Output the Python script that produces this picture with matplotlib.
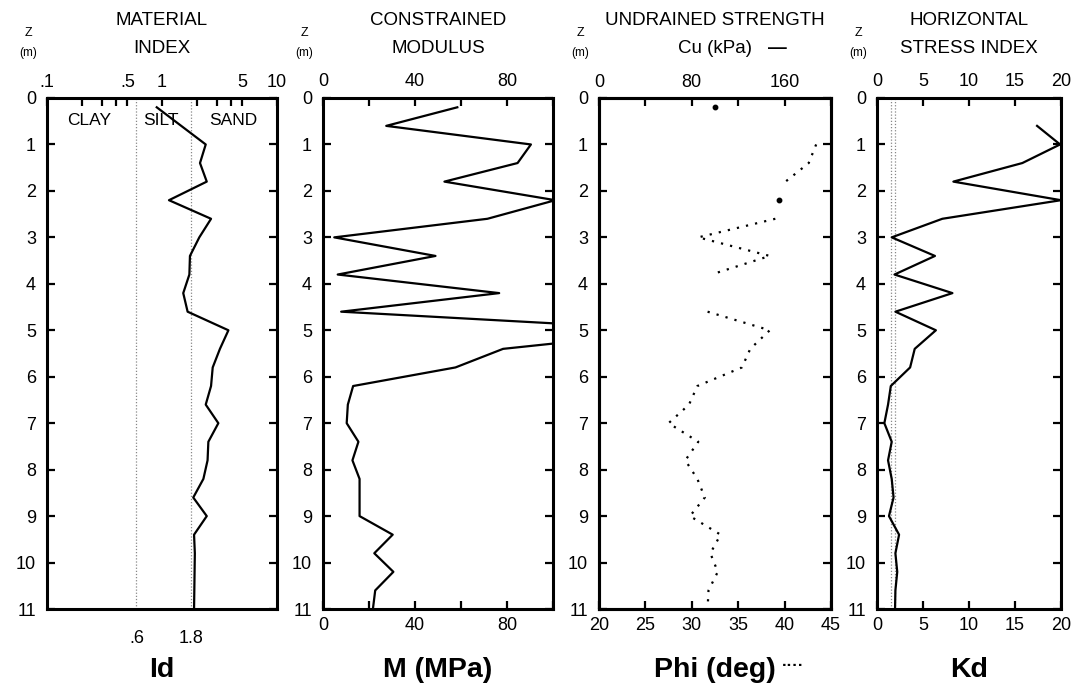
import matplotlib
matplotlib.use("Agg")
import matplotlib.pyplot as plt
import numpy as np

plt.rcParams['font.family'] = ['Liberation Sans', 'DejaVu Sans']

# ---------------- data ----------------
depth_labels = [0, 1, 2, 3, 4, 5, 6, 7, 8, 9, 10, 11]

# Material index Id
depth_id = [0.2, 1.0, 1.4, 1.8, 2.2, 2.6, 3.0, 3.4, 3.8, 4.2, 4.6, 5.0, 5.4, 5.8,
            6.2, 6.6, 7.0, 7.4, 7.8, 8.2, 8.6, 9.0, 9.4, 9.8, 10.2, 10.6, 11.0]
id_values = [0.90, 2.40, 2.14, 2.45, 1.15, 2.67, 2.11, 1.75, 1.73, 1.53, 1.67, 3.78, 3.19, 2.76,
             2.67, 2.40, 3.09, 2.53, 2.49, 2.29, 1.87, 2.45, 1.90, 1.93, 1.92, 1.91, 1.90]
id_top_ticks = [0.1, 0.5, 1, 5, 10]
id_top_labels = ['.1', '.5', '1', '5', '10']
id_minor_ticks = [0.2, 0.3, 0.4, 2, 3, 4]
id_bounds = [0.6, 1.8]
id_bound_labels = ['.6', '1.8']
soil_names = ['CLAY', 'SILT', 'SAND']
soil_pos = [0.234, 0.98, 4.14]

# Constrained modulus M (MPa)
depth_m = [0.2, 0.6, 1.0, 1.4, 1.8, 2.2, 2.6, 3.0, 3.4, 3.8, 4.2, 4.6, 5.0, 5.4, 5.8,
           6.2, 6.6, 7.0, 7.4, 7.8, 8.2, 8.6, 9.0, 9.4, 9.8, 10.2, 10.6, 11.0]
m_values = [58.4, 27.5, 90.4, 84.6, 52.8, 101.0, 71.5, 4.9, 48.9, 6.4, 76.6, 7.9, 155.0, 78.3, 57.6,
            13.1, 10.8, 10.3, 15.4, 12.8, 15.9, 15.9, 15.9, 30.3, 22.3, 30.6, 22.7, 21.7]
m_ticks = [0, 20, 40, 60, 80, 100]
m_labels = ['0', '', '40', '', '80', '']

# Undrained strength Cu (kPa) and friction angle Phi (deg)
depth_cu = [0.2, 2.2]
cu_values = [100, 155]
depth_phi = [0.2, 0.6, 1.0, 1.4, 1.8, 2.2, 2.6, 3.0, 3.4, 3.8, 4.2, 4.6, 5.0, 5.4, 5.8,
             6.2, 6.6, 7.0, 7.4, 7.8, 8.2, 8.6, 9.0, 9.4, 9.8, 10.2, 10.6, 11.0]
phi_values = [np.nan, np.nan, 43.4, 42.6, 40.1, np.nan, 39.0, 30.7, 38.4, 32.1, np.nan, 31.7, 38.4, 36.3, 35.4,
              30.6, 29.7, 27.5, 30.7, 29.3, 30.6, 31.4, 29.8, 33.1, 32.0, 32.8, 31.8, 31.7]
phi_ticks = [20, 25, 30, 35, 40, 45]
cu_ticks = [0, 40, 80, 120, 160, 200]
cu_labels = ['0', '', '80', '', '160', '']

# Horizontal stress index Kd
depth_kd = [0.6, 1.0, 1.4, 1.8, 2.2, 2.6, 3.0, 3.4, 3.8, 4.2, 4.6, 5.0, 5.4, 5.8,
            6.2, 6.6, 7.0, 7.4, 7.8, 8.2, 8.6, 9.0, 9.4, 9.8, 10.2, 10.6, 11.0]
kd_values = [17.4, 19.9, 15.8, 8.3, 20.0, 7.1, 1.6, 6.3, 1.9, 8.2, 2.0, 6.4, 4.1, 3.6,
             1.5, 1.2, 0.8, 1.6, 1.2, 1.6, 1.8, 1.3, 2.4, 2.0, 2.2, 2.0, 1.96]
kd_ticks = [0, 5, 10, 15, 20]
kd_refs = [1.5, 2.0]

titles = [('MATERIAL', 'INDEX'), ('CONSTRAINED', 'MODULUS'),
          ('UNDRAINED STRENGTH', 'Cu (kPa)'), ('HORIZONTAL', 'STRESS INDEX')]
bottom_labels = ['Id', 'M (MPa)', 'Phi (deg)', 'Kd']

# ---------------- layout ----------------
W, H = 1086, 683
TOP, BOT = 98, 609
fig = plt.figure(figsize=(W / 100, H / 100), dpi=100)

def rect(l, r):
    return [l / W, 1 - BOT / H, (r - l) / W, (BOT - TOP) / H]

panels_px = [(47, 277), (323, 553), (599, 831), (877, 1061)]
axes = [fig.add_axes(rect(l, r)) for l, r in panels_px]

LW = 1.6
SPW = 2.2
TICKLEN = 6
TICKW = 1.6
LABS = 13

def base_style(ax):
    ax.set_ylim(11, 0)
    ax.set_yticks(depth_labels)
    ax.tick_params(axis='y', direction='in', left=True, right=True, length=TICKLEN,
                   width=TICKW, labelsize=LABS, pad=8)
    for s in ax.spines.values():
        s.set_linewidth(SPW)

# Panel 1: Id
ax = axes[0]
base_style(ax)
ax.set_xscale('log')
ax.set_xlim(0.1, 10)
ax.xaxis.tick_top()
ax.set_xticks(id_top_ticks)
ax.set_xticklabels(id_top_labels)
ax.set_xticks(id_minor_ticks, minor=True)
ax.xaxis.set_minor_formatter(matplotlib.ticker.NullFormatter())
ax.tick_params(axis='x', which='both', direction='in', top=True, bottom=False,
               length=TICKLEN, width=TICKW, labelsize=LABS, pad=5)
for b in id_bounds:
    ax.axvline(b, color='#888888', lw=0.9, ls=(0, (1, 1.5)))
ax.plot(id_values, depth_id, color='black', lw=LW)
for name, xp in zip(soil_names, soil_pos):
    ax.text(xp, 0.58, name, ha='center', va='baseline', fontsize=12.5)
sec = ax.secondary_xaxis('bottom')
sec.set_xticks(id_bounds)
sec.set_xticklabels(id_bound_labels)
sec.xaxis.set_minor_locator(matplotlib.ticker.NullLocator())
sec.tick_params(axis='x', which='both', length=0, labelsize=LABS, pad=15)
sec.spines['bottom'].set_visible(False)

# Panel 2: M
ax = axes[1]
base_style(ax)
ax.set_xlim(0, 100)
ax.set_xticks(m_ticks)
ax.set_xticklabels(m_labels)
ax.tick_params(axis='x', direction='in', top=True, bottom=True, labeltop=True,
               labelbottom=True, length=TICKLEN, width=TICKW, labelsize=LABS, pad=6)
ax.plot(m_values, depth_m, color='black', lw=LW)

# Panel 3: Phi and Cu
ax = axes[2]
base_style(ax)
ax.set_xlim(20, 45)
ax.set_xticks(phi_ticks)
ax.tick_params(axis='x', direction='in', top=False, bottom=True, labelbottom=True,
               length=TICKLEN, width=TICKW, labelsize=LABS, pad=6)
ax.plot(phi_values, depth_phi, color='black', lw=1.6, ls=(0, (1, 3.2)))
axt = ax.twiny()
axt.set_xlim(0, 200)
axt.set_xticks(cu_ticks)
axt.set_xticklabels(cu_labels)
axt.tick_params(axis='x', direction='in', top=True, length=TICKLEN, width=TICKW,
                labelsize=LABS, pad=5)
for s in axt.spines.values():
    s.set_linewidth(SPW)
axt.plot(cu_values, depth_cu, 'o', color='black', ms=3.2)

# Panel 4: Kd
ax = axes[3]
base_style(ax)
ax.set_xlim(0, 20)
ax.set_xticks(kd_ticks)
ax.tick_params(axis='x', direction='in', top=True, bottom=True, labeltop=True,
               labelbottom=True, length=TICKLEN, width=TICKW, labelsize=LABS, pad=6)
for k in kd_refs:
    ax.axvline(k, color='#888888', lw=0.9, ls=(0, (1, 1.5)))
ax.plot(kd_values, depth_kd, color='black', lw=LW)

# ---------------- texts ----------------
def fy(py):
    return 1 - py / H

for (l, r), (t1, t2), bl in zip(panels_px, titles, bottom_labels):
    cx = (l + r) / 2 / W
    fig.text(cx, fy(25), t1, ha='center', va='baseline', fontsize=13.5)
    fig.text(cx, fy(53), t2, ha='center', va='baseline', fontsize=13.5)
    fig.text((l - 19) / W, fy(36.5), 'Z', ha='center', va='baseline', fontsize=9)
    fig.text((l - 19) / W, fy(56), '(m)', ha='center', va='baseline', fontsize=8.5)
    fig.text(cx, fy(677), bl, ha='center', va='baseline', fontsize=20.5, fontweight='bold')

# legend-like marks for Cu (solid) and Phi (dotted)
fig.text(768 / W, fy(53), '\u2014', ha='left', va='baseline', fontsize=13.5, fontweight='bold')
fig.text(782 / W, fy(670), '\u00b7\u00b7\u00b7\u00b7', ha='left', va='baseline', fontsize=12,
         fontweight='bold')

fig.savefig('out.png', dpi=100)
